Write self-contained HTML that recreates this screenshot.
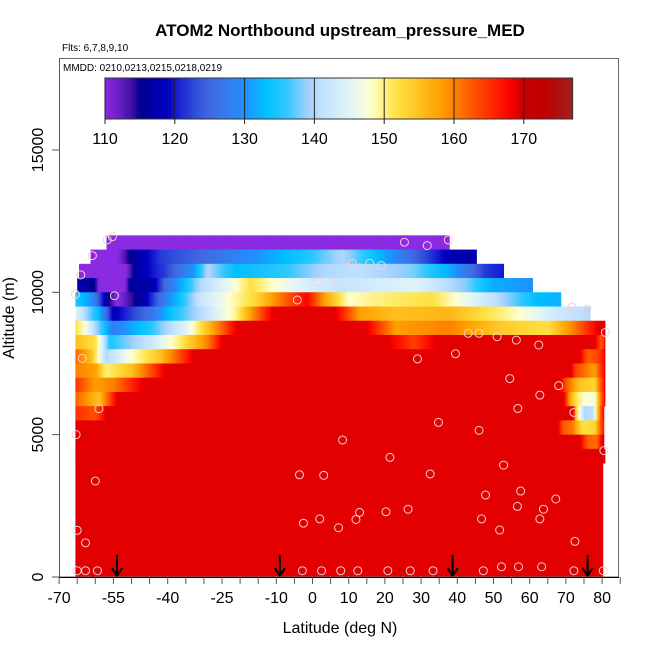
<!DOCTYPE html>
<html><head><meta charset="utf-8"><style>
html,body{margin:0;padding:0;background:#fff;}
svg{display:block;font-family:"Liberation Sans",sans-serif;}
</style></head><body>
<svg id="chart" width="650" height="650" viewBox="0 0 650 650">
<text x="340" y="36" font-size="17" font-weight="bold" text-anchor="middle">ATOM2 Northbound upstream_pressure_MED</text>
<text x="62" y="51" font-size="10">Flts: 6,7,8,9,10</text>
<g id="heat"></g>
<g id="pts"></g>
<g id="arrows"></g>
<rect x="59.5" y="58.5" width="559" height="518.5" fill="none" stroke="#666" stroke-width="1"/>
<text x="63" y="71" font-size="10">MMDD: 0210,0213,0215,0218,0219</text>
<g id="cbar"></g>
<g id="axes"></g>
<text x="340" y="633" font-size="16" text-anchor="middle">Latitude (deg N)</text>
<text transform="translate(14,318) rotate(-90)" font-size="16" text-anchor="middle">Altitude (m)</text>
</svg>
<script>
// ---- data ----
const rowAlts = [11500,11000,10500,10000,9500,9000,8500,8000,7500,7000,6500,6000,5500,5000,4500,4000,0];
const rowTops = [12000,11500,11000,10500,10000,9500,9000,8500,8000,7500,7000,6500,6000,5500,5000,4500,4000];
const rowStarts = [-56.9,-61.3,-64.5,-65,-65.5,-65.5,-65.5,-65.5,-65.5,-65.5,-65.5,-65.5,-65.5,-65.5,-65.5,-65.5,-65.5];
const rowEnds = [37.8,45.3,52.8,60.8,68.6,76.7,80.8,80.8,80.8,80.8,80.8,80.8,80.5,80.5,80.5,80.8,80.2];
const rowStops = [
 [[-60,110],[40,110]],
 [[-61,110],[-54,110],[-50.6,115],[-41.8,122],[-31,125],[-16,130],[-1.5,135],[8.3,140],[18,133],[28,125],[37.7,118],[45,117]],
 [[-64,110],[-51.6,110],[-48.7,117],[-40.8,122],[-33,130],[-29,140],[-21,133],[-6.5,136],[3.3,140],[13,141],[28,138],[37.7,132],[47.5,122],[53,120]],
 [[-65,118],[-60,115],[-59,110],[-52,110],[-50,117],[-44,117],[-40.8,125],[-31,140],[-23,146],[-17,152],[-11,148],[-1.5,144],[8.3,142],[28,145],[42.7,138],[49.6,132],[61,130]],
 [[-65.5,135],[-61,130],[-57,117],[-54,110],[-46,118],[-40.8,128],[-31,142],[-23,148],[-15.5,153],[-9.5,160],[-1.5,168],[3.3,158],[10,148],[18,150],[33,152],[47.5,143],[62,133],[69,132]],
 [[-65.5,145],[-59,133],[-55,118],[-45,126],[-39,134],[-29,142],[-21,150],[-16,160],[-11,169],[6.4,169],[13,158],[23,155],[37.7,156],[57.3,148],[67,143],[77,140]],
 [[-65.5,152],[-63,148],[-60,140],[-55,128],[-45,135],[-35,145],[-29,155],[-21,169],[15,169],[23,158],[37.7,160],[52.5,154],[65,152],[72,160],[79,169],[81,169]],
 [[-65.5,155],[-60,152],[-56,135],[-45,142],[-37,150],[-29,160],[-25,169],[21,169],[28,164],[34,169],[78,169],[80,162],[81,169]],
 [[-65.5,162],[-61,155],[-57,140],[-50,148],[-42,155],[-33,169],[74,169],[76,162],[79,164],[81,169]],
 [[-65.5,160],[-60,158],[-57,150],[-50,155],[-40.8,169],[71.6,169],[72.5,164],[76,160],[78,158],[80,166],[81,169]],
 [[-65.5,165],[-60,158],[-55,160],[-47,169],[68.5,169],[70,163],[73.5,155],[78,153],[79.5,162],[81,169]],
 [[-65.5,162],[-59,155],[-54,169],[69.5,169],[71,158],[73,151],[75,148],[78,147],[79.5,160],[81,169]],
 [[-65.5,165],[-60,163],[-57,169],[72,169],[73,152],[75,140],[77.5,141],[78.5,152],[80,166],[81,169]],
 [[-65.5,169],[68,169],[69,163],[72,160],[74.5,152],[78,153],[79.5,162],[81,169]],
 [[-65.5,169],[74,169],[76,162],[78.5,161],[80,169],[81,169]],
 [[-65.5,169],[81,169]],
 [[-65.5,169],[81,169]]
];
const pointLats = [-56.7,-55.3,-60.8,-64,-65.5,-54.7,-4.2,1.4,6.4,11,15.8,19,25.4,31.7,37.5,71.7,75.8,43,46,51,56.3,62.5,80.9,29,39.5,-63.6,54.5,68,62.8,-59,56.7,72.2,34.8,80.5,-65.3,8.3,46,
 -65,-62.7,-59.4,-2.8,2.5,7.8,12.5,20.8,27,33.3,47.2,72.2,80.3,52.2,56.9,63.3,-65,-62.7,-60,-3.6,3.1,32.5,52.8,21.4,47.8,57.5,67.2,56.6,63.8,62.8,46.7,26.4,20.3,13,12,2,-2.5,7.2,51.7,72.5];
const pointAlts = [11840,11950,11290,10610,9930,9880,9730,10370,10370,11020,11020,10940,11760,11640,11840,9480,9410,8560,8560,8440,8320,8150,8590,7660,7840,7680,6970,6720,6390,5910,5920,5780,5430,4440,5000,4810,5150,
 220,220,220,220,220,220,220,220,220,220,220,220,220,360,360,360,1640,1200,3370,3590,3570,3620,3930,4200,2880,3020,2740,2480,2380,2040,2040,2380,2290,2270,2020,2040,1890,1730,1650,1250];
const arrowLats = [-54,-9,38.7,76];
const xTicks = [-70,-55,-40,-25,-10,0,10,20,30,40,50,60,70,80];
const yTicks = [0,5000,10000,15000];
const cbTicks = [110,120,130,140,150,160,170];
const cmapVals = [110,112,114,115,117,119,120,123,125,128,130,133,136,139,141,145,148,150,152,155,158,160,163,166,168,169,170,173,177];
const cmapCols = ["#8a2be2","#6a1fc8","#3a0ea0","#00008e","#0000a8","#0000c0","#1515d0","#3050dc","#4068e0","#3080f0","#1e90ff","#00bfff","#30c8ff","#a0d0ff","#c0e0ff","#e0f4f8","#ffffd0","#fff080","#ffe040","#ffc020","#ffa000","#ff8000","#ff5000","#ff2000","#ff0000","#e20000","#c80000","#c00000","#a02020"];

// ---- scales ----
const xS = lat => 312.5 + (lat) * 3.62;
const yS = alt => 577 - alt * 0.02847;
const cbX = v => 105 + (v - 110) * 6.98;
const NS = "http://www.w3.org/2000/svg";
function hex(h){return [parseInt(h.substr(1,2),16),parseInt(h.substr(3,2),16),parseInt(h.substr(5,2),16)];}
function color(v){
  if(v<=cmapVals[0]) return cmapCols[0];
  for(let i=1;i<cmapVals.length;i++){
    if(v<=cmapVals[i]){
      const t=(v-cmapVals[i-1])/(cmapVals[i]-cmapVals[i-1]);
      const a=hex(cmapCols[i-1]),b=hex(cmapCols[i]);
      return "rgb("+a.map((c,k)=>Math.round(c+(b[k]-c)*t)).join(",")+")";
    }
  }
  return cmapCols[cmapCols.length-1];
}
function interp(stops,lat){
  if(lat<=stops[0][0]) return stops[0][1];
  for(let i=1;i<stops.length;i++){
    if(lat<=stops[i][0]){const t=(lat-stops[i-1][0])/(stops[i][0]-stops[i-1][0]);return stops[i-1][1]+(stops[i][1]-stops[i-1][1])*t;}
  }
  return stops[stops.length-1][1];
}
function mk(tag,attrs,parent){const e=document.createElementNS(NS,tag);for(const k in attrs)e.setAttribute(k,attrs[k]);parent.appendChild(e);return e;}

// heatmap
const heat=document.getElementById('heat');
rowStops.forEach((stops,r)=>{
  const y0=yS(rowTops[r]), y1=yS(rowAlts[r]);
  const step=0.5;
  for(let lat=rowStarts[r]; lat<rowEnds[r]; lat+=step){
    const l2=Math.min(lat+step,rowEnds[r]);
    const c=color(interp(stops,lat+step/2));
    const el=mk('rect',{x:xS(lat).toFixed(2),y:y0.toFixed(2),width:(xS(l2)-xS(lat)+0.4).toFixed(2),height:(y1-y0+0.4).toFixed(2),fill:c},heat);
    
    
  }
});
// points
const pts=document.getElementById('pts');
pointLats.forEach((lat,i)=>{
  const c=mk('circle',{cx:xS(lat),cy:yS(pointAlts[i]),r:4,fill:'none',stroke:'#f4d0d0','stroke-width':1},pts);
  
  
});
// arrows
const arr=document.getElementById('arrows');
arrowLats.forEach(lat=>{
  const x=xS(lat);
  const g=mk('g',{},arr);
  
  
  mk('line',{x1:x,y1:555,x2:x,y2:576,stroke:'#000','stroke-width':2},g);
  mk('polyline',{points:(x-5)+",568 "+x+",576 "+(x+5)+",568",fill:'none',stroke:'#000','stroke-width':2},g);
});
// axes
const ax=document.getElementById('axes');
mk('line',{x1:59.5,y1:577,x2:59.5,y2:58,stroke:'#555'},ax);
mk('line',{x1:59,y1:577.5,x2:619,y2:577.5,stroke:'#000'},ax);
for(let v=-70; v<=85; v+=5){
  mk('line',{x1:xS(v),y1:577,x2:xS(v),y2:584,stroke:'#555'},ax);
}
xTicks.forEach(v=>{
  const t=mk('text',{x:xS(v),y:603,'font-size':16,'text-anchor':'middle'},ax);
  t.textContent=String(v);
  
  
});
yTicks.forEach(v=>{
  mk('line',{x1:52,y1:yS(v),x2:59.5,y2:yS(v),stroke:'#555'},ax);
  const t=mk('text',{transform:"translate(43,"+yS(v)+") rotate(-90)",'font-size':16,'text-anchor':'middle'},ax);
  t.textContent=String(v);
  
  
});
// colorbar
const cb=document.getElementById('cbar');
for(let v=110; v<177; v+=0.5){
  const r=mk('rect',{x:cbX(v).toFixed(2),y:78,width:(cbX(v+0.5)-cbX(v)+0.3).toFixed(2),height:41,fill:color(v+0.25)},cb);
  
  
}
mk('rect',{x:105,y:78,width:cbX(177)-105,height:41,fill:'none',stroke:'#333'},cb);
cbTicks.forEach(v=>{
  mk('line',{x1:cbX(v),y1:78,x2:cbX(v),y2:124,stroke:'#222'},cb);
  const t=mk('text',{x:cbX(v),y:144,'font-size':16,'text-anchor':'middle'},cb);
  t.textContent=String(v);
  
  
});
</script>
</body></html>
